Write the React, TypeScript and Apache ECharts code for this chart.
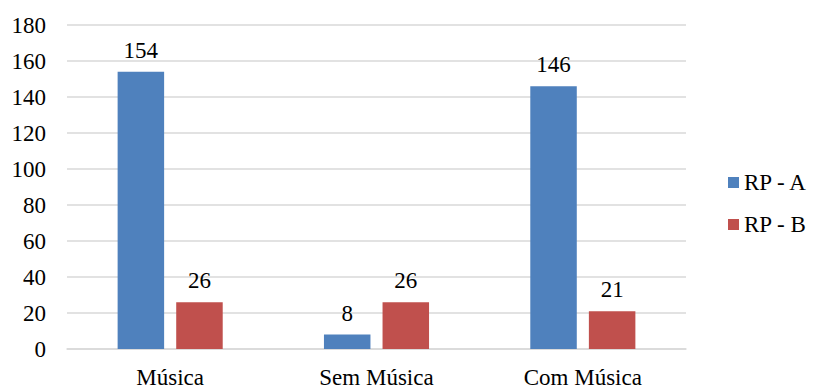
import React, { useEffect, useRef } from "react";
import * as echarts from "echarts";

const categories = ["Música", "Sem Música", "Com Música"];
const seriesNames = ["RP - A", "RP - B"];
const rpA = [154, 8, 146];
const rpB = [26, 26, 21];
const yTicks = { min: 0, max: 180, interval: 20 };

const FONT = "Times New Roman, Liberation Serif, serif";
const FONT_SIZE = 23;

export default function App() {
  const ref = useRef<HTMLDivElement>(null);

  useEffect(() => {
    if (!ref.current) return;
    const chart = echarts.init(ref.current, null, { renderer: "svg" });
    const label = {
      show: true,
      position: "top",
      distance: 10,
      color: "#000",
      fontFamily: FONT,
      fontSize: FONT_SIZE,
    };
    chart.setOption({
      animation: false,
      textStyle: { fontFamily: FONT },
      grid: { left: 67, right: 127, top: 25, bottom: 37, containLabel: false },
      legend: {
        orient: "vertical",
        left: 728,
        top: 171,
        padding: 0,
        itemWidth: 11,
        itemHeight: 11,
        itemGap: 19,
        icon: "rect",
        data: seriesNames,
        textStyle: { fontFamily: FONT, fontSize: FONT_SIZE, color: "#000" },
      },
      xAxis: {
        type: "category",
        data: categories,
        axisLine: { show: true, lineStyle: { color: "#d9d9d9", width: 1.5 } },
        axisTick: { show: false },
        axisLabel: { color: "#000", fontFamily: FONT, fontSize: FONT_SIZE, margin: 17 },
      },
      yAxis: {
        type: "value",
        min: yTicks.min,
        max: yTicks.max,
        interval: yTicks.interval,
        axisLine: { show: false },
        axisTick: { show: false },
        axisLabel: { color: "#000", fontFamily: FONT, fontSize: FONT_SIZE, margin: 21 },
        splitLine: { lineStyle: { color: "#d9d9d9", width: 1.5 } },
      },
      series: [
        {
          name: seriesNames[0],
          type: "bar",
          data: rpA,
          barWidth: 46.5,
          barGap: "26%",
          itemStyle: { color: "#4f81bd" },
          label,
        },
        {
          name: seriesNames[1],
          type: "bar",
          data: rpB,
          barWidth: 46.5,
          barGap: "26%",
          itemStyle: { color: "#c0504d" },
          label,
        },
      ],
    });
    return () => chart.dispose();
  }, []);

  return (
    <div
      ref={ref}
      style={{ position: "fixed", left: 0, top: 0, width: 813, height: 389, background: "#fff" }}
    />
  );
}
